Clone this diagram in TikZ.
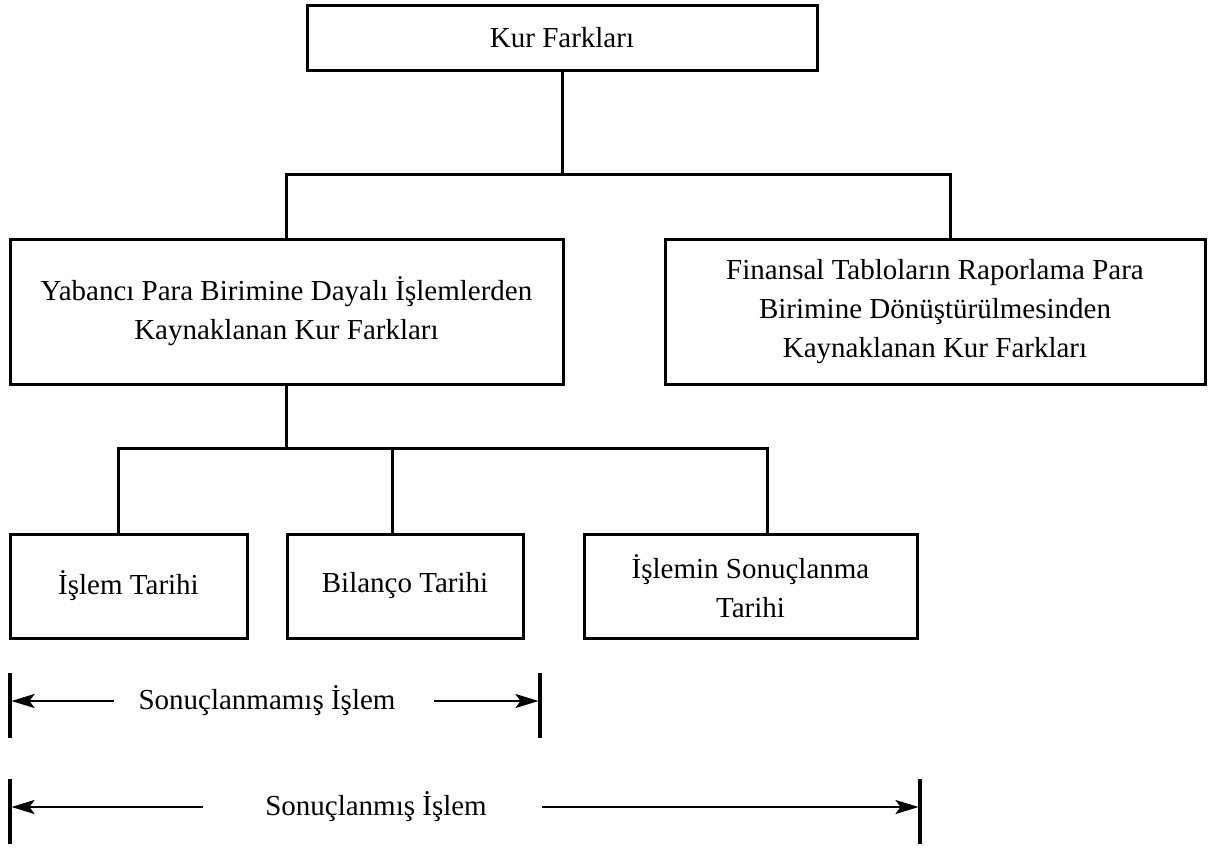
\documentclass[tikz,border=0pt]{standalone}
\usepackage{fontspec}
\setmainfont{Liberation Serif}
\usetikzlibrary{arrows.meta,calc}
\begin{document}
\begin{tikzpicture}[x=1pt,y=-1pt,
  box/.style={draw, line width=3pt, align=center, inner sep=0pt, font=\fontsize{29}{39}\selectfont},
  conn/.style={line width=3pt},
  bar/.style={line width=3.5pt},
  dim/.style={line width=2.5pt, -{Stealth[length=23pt,width=14pt,inset=5pt]}, shorten >=1.5pt},
  lbl/.style={font=\fontsize{29}{39}\selectfont, inner sep=0pt}]
\useasboundingbox (0,0) rectangle (1215,849);

% boxes
\node[box, minimum width=510pt, minimum height=65pt] (top) at (562,37.5) {Kur Farkları};
\node[box, minimum width=553pt, minimum height=145pt] (lbox) at (286.5,311.5)
  {Yabancı Para Birimine Dayalı İşlemlerden\\Kaynaklanan Kur Farkları};
\node[box, minimum width=540pt, minimum height=145pt] (rbox) at (935,311.5)
  {Finansal Tabloların Raporlama Para\\Birimine Dönüştürülmesinden\\Kaynaklanan Kur Farkları};
\node[box, minimum width=237pt, minimum height=104pt] (b1) at (128.5,586) {İşlem Tarihi};
\node[box, minimum width=236pt, minimum height=104pt] (b2) at (405,586) {Bilanço Tarihi};
\node[box, minimum width=333pt, minimum height=104pt] (b3) at (750.5,586) {İşlemin Sonuçlanma\\Tarihi};

% upper tree
\coordinate (rj) at (950,174);
\draw[conn] (top.south) -- (top.south |- rj);
\draw[conn] (lbox.north) |- (rj) -- (rj |- rbox.north);

% lower tree
\coordinate (lj) at (118,448);
\coordinate (mj) at (392,448);
\coordinate (rj2) at (767,448);
\draw[conn] (lbox.south) -- (lbox.south |- lj);
\draw[conn] (lj |- b1.north) -- (lj) -- (rj2) -- (rj2 |- b3.north);
\draw[conn] (mj) -- (mj |- b2.north);

% first span
\coordinate (p1) at (10,701);
\coordinate (p2) at (540,701);
\draw[bar] ($(p1)+(0,-28)$) -- ($(p1)+(0,37)$);
\draw[bar] ($(p2)+(0,-28)$) -- ($(p2)+(0,37)$);
\node[lbl] (t1) at (267,701) {Sonuçlanmamış İşlem};
\coordinate (p1s) at (114,701);
\coordinate (p2s) at (434,701);
\draw[dim] (p1s) -- (p1);
\draw[dim] (p2s) -- (p2);

% second span
\coordinate (q1) at (10,807);
\coordinate (q2) at (920,807);
\draw[bar] ($(q1)+(0,-28)$) -- ($(q1)+(0,37)$);
\draw[bar] ($(q2)+(0,-28)$) -- ($(q2)+(0,37)$);
\node[lbl] (t2) at (376,807) {Sonuçlanmış İşlem};
\coordinate (q1s) at (203,807);
\coordinate (q2s) at (542,807);
\draw[dim] (q1s) -- (q1);
\draw[dim] (q2s) -- (q2);
\end{tikzpicture}
\end{document}
